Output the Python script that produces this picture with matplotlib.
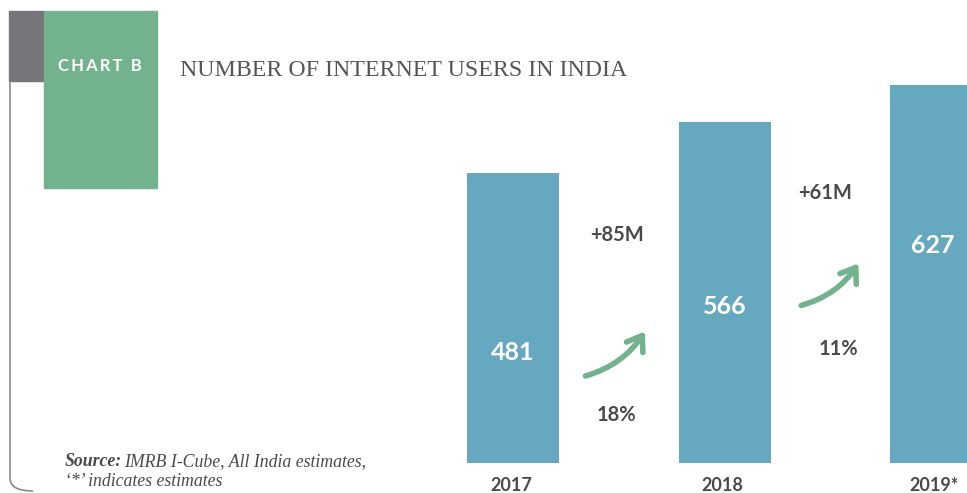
import matplotlib.pyplot as plt
import matplotlib.patches as mpatches
from matplotlib.path import Path

# data
years = ['2017', '2018', '2019*']
users = [481, 566, 627]
growth_abs = ['+85M', '+61M']
growth_pct = ['18%', '11%']

W, H = 967, 493
bar_color = '#65a8c0'
green = '#72b38e'
dark = '#4a4a4a'

fig = plt.figure(figsize=(W / 100, H / 100), dpi=100)

def fx(px):
    return px / W

def fy(py):
    return 1 - py / H

# header blocks
fig.patches.append(mpatches.Rectangle((fx(9), fy(81)), fx(35), 70 / H,
                                      transform=fig.transFigure, color='#76767a', zorder=0))
fig.patches.append(mpatches.Rectangle((fx(44), fy(188)), fx(113), 177 / H,
                                      transform=fig.transFigure, color=green, zorder=0))
fig.text(fx(100), fy(66), '\u2009'.join('CHART B'), color='white', fontsize=12,
         fontweight='bold', family=['Lato', 'DejaVu Sans'], ha='center', va='center')

# left frame line with rounded corner
verts = [(fx(10), fy(81)), (fx(10), fy(478)), (fx(10), fy(491)), (fx(33), fy(491))]
codes = [Path.MOVETO, Path.LINETO, Path.CURVE3, Path.CURVE3]
fig.patches.append(mpatches.PathPatch(Path(verts, codes), transform=fig.transFigure,
                                      fill=False, edgecolor='#8a8a8a', lw=1.2))

fig.text(fx(180), fy(70), 'NUMBER OF INTERNET USERS IN INDIA', family='Liberation Serif',
         fontsize=17.2, color='#555555', va='center')

# source note
fig.text(fx(65), fy(462), 'Source:', family='Liberation Serif', fontsize=12.8,
         style='italic', fontweight='bold', color=dark, va='center')
fig.text(fx(124), fy(462), 'IMRB I-Cube, All India estimates,', family='Liberation Serif',
         fontsize=12.8, style='italic', color=dark, va='center')
fig.text(fx(65), fy(482), '‘*’ indicates estimates', family='Liberation Serif',
         fontsize=12.8, style='italic', color=dark, va='center')

# bars axes: left edge px 400, right 967, bottom 463, top 60
ax = fig.add_axes([fx(400), fy(463), fx(567), 403 / H])
unit = 211.5
x = [0, 1, 2]
ax.bar(x, users, width=92 / unit, color=bar_color)
ax.set_xlim(-113 / unit, 2 + 31 / unit)
ax.set_ylim(0, 403 / 0.603)
ax.axis('off')

label_y = [184, 260, 360]
label_dx = [0, 0, -0.015]
for xi, v, ly, dx in zip(x, users, label_y, label_dx):
    ax.text(xi + dx, ly, str(v), color='white', fontsize=18, fontweight='bold',
            family='Lato', ha='center', va='center')

for xi, yr in zip(x, years):
    ax.text(xi - 0.01, -37, yr, color=dark, fontsize=13, fontweight='bold', family='Lato',
            ha='center', va='center', clip_on=False)

# growth annotations between bars
abs_pos = [(0.49, 378), (0.475, 447)]
pct_pos = [(0.49, 79), (0.54, 189)]
arrow_pos = [((0.33, 143), (0.63, 222)), ((1.35, 260), (1.64, 335))]
for i in range(2):
    ax.text(abs_pos[i][0] + i, abs_pos[i][1], growth_abs[i], color=dark, fontsize=14.5,
            fontweight='bold', family='Lato', ha='center', va='center')
    ax.text(pct_pos[i][0] + i, pct_pos[i][1], growth_pct[i], color=dark, fontsize=14.5,
            fontweight='bold', family='Lato', ha='center', va='center')
    arr = mpatches.FancyArrowPatch(arrow_pos[i][0], arrow_pos[i][1],
                                   connectionstyle='arc3,rad=0.2',
                                   arrowstyle='->,head_length=0.5,head_width=0.35',
                                   mutation_scale=20, color=green, lw=4,
                                   capstyle='round', joinstyle='round')
    ax.add_patch(arr)

fig.savefig('out.png', dpi=100)
